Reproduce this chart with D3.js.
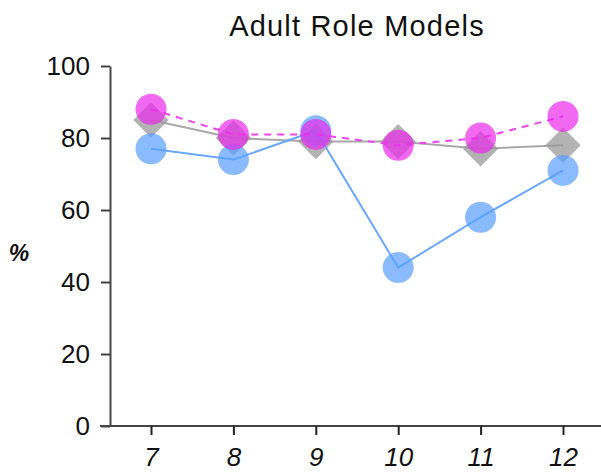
<!DOCTYPE html>
<html>
<head>
<meta charset="utf-8">
<script src="https://cdn.jsdelivr.net/npm/d3@7"></script>
<style>
  body { margin: 0; background: #fff; }
  text { font-family: "Liberation Sans", Arial, sans-serif; fill: #111; }
</style>
</head>
<body>
<div class="render"></div>
<script>
var ages = [7, 8, 9, 10, 11, 12];
var yTicks = [0, 20, 40, 60, 80, 100];
var blueVals = [77, 74, 82, 44, 58, 71];
var grayVals = [85, 80, 79, 79, 77, 78];
var pinkVals = [88, 81, 81, 78, 80, 86];

var width = 601, height = 472;

var svg = d3.select(".render").append("svg")
    .attr("width", width).attr("height", height);

var x = d3.scaleLinear().domain([7, 12]).range([151, 563]);
var y = d3.scaleLinear().domain([0, 100]).range([426, 66]);

// title
svg.append("text")
    .attr("x", 357).attr("y", 36)
    .attr("text-anchor", "middle")
    .style("font-size", "29px")
    .style("letter-spacing", "1.2px")
    .text("Adult Role Models");

// y axis
var yAxis = svg.append("g")
    .attr("transform", "translate(110,0)")
    .call(d3.axisLeft(y).tickValues(yTicks).tickFormat(d3.format("d")).tickSize(9).tickPadding(11).tickSizeOuter(0));
yAxis.select(".domain").attr("stroke", "#444").attr("stroke-width", 2);
yAxis.selectAll(".tick line").attr("stroke", "#444").attr("stroke-width", 2);
yAxis.selectAll(".tick text").style("font-size", "26px").attr("fill", "#111");

// x axis
var xAxis = svg.append("g")
    .attr("transform", "translate(0,426)")
    .call(d3.axisBottom(x).tickValues(ages).tickFormat(d3.format("d")).tickSize(9).tickPadding(13).tickSizeOuter(0));
xAxis.select(".domain").attr("d", "M100,0H601").attr("stroke", "#444").attr("stroke-width", 2);
xAxis.selectAll(".tick line").attr("stroke", "#222").attr("stroke-width", 2);
xAxis.selectAll(".tick text").style("font-size", "26px").style("font-style", "italic").attr("fill", "#111");

// y label
svg.append("text")
    .attr("x", 19).attr("y", 261)
    .attr("text-anchor", "middle")
    .style("font-size", "23px").style("font-weight", "bold").style("font-style", "italic")
    .text("%");

var line = d3.line().x(function(d, i) { return x(ages[i]); }).y(function(d) { return y(d); });

// gray diamonds
svg.append("path").datum(grayVals)
    .attr("d", line).attr("fill", "none")
    .attr("stroke", "#a8a8a8").attr("stroke-width", 2);
svg.selectAll("path.diamond").data(grayVals).enter().append("path")
    .attr("class", "diamond")
    .attr("d", d3.symbol().type(d3.symbolDiamond2).size(800))
    .attr("transform", function(d, i) { return "translate(" + x(ages[i]) + "," + y(d) + ")"; })
    .attr("fill", "#999").attr("fill-opacity", 0.75);

// blue circles
svg.append("path").datum(blueVals)
    .attr("d", line).attr("fill", "none")
    .attr("stroke", "#6aa8ff").attr("stroke-width", 2);
svg.selectAll("circle.blue").data(blueVals).enter().append("circle")
    .attr("class", "blue")
    .attr("cx", function(d, i) { return x(ages[i]); })
    .attr("cy", function(d) { return y(d); })
    .attr("r", 15.5)
    .attr("fill", "#5a9eff").attr("fill-opacity", 0.7);

// pink circles
svg.append("path").datum(pinkVals)
    .attr("d", line).attr("fill", "none")
    .attr("stroke", "#ee44ee").attr("stroke-width", 2)
    .attr("stroke-dasharray", "7,6");
svg.selectAll("circle.pink").data(pinkVals).enter().append("circle")
    .attr("class", "pink")
    .attr("cx", function(d, i) { return x(ages[i]); })
    .attr("cy", function(d) { return y(d); })
    .attr("r", 15.5)
    .attr("fill", "#ea2aea").attr("fill-opacity", 0.7);
</script>
</body>
</html>
